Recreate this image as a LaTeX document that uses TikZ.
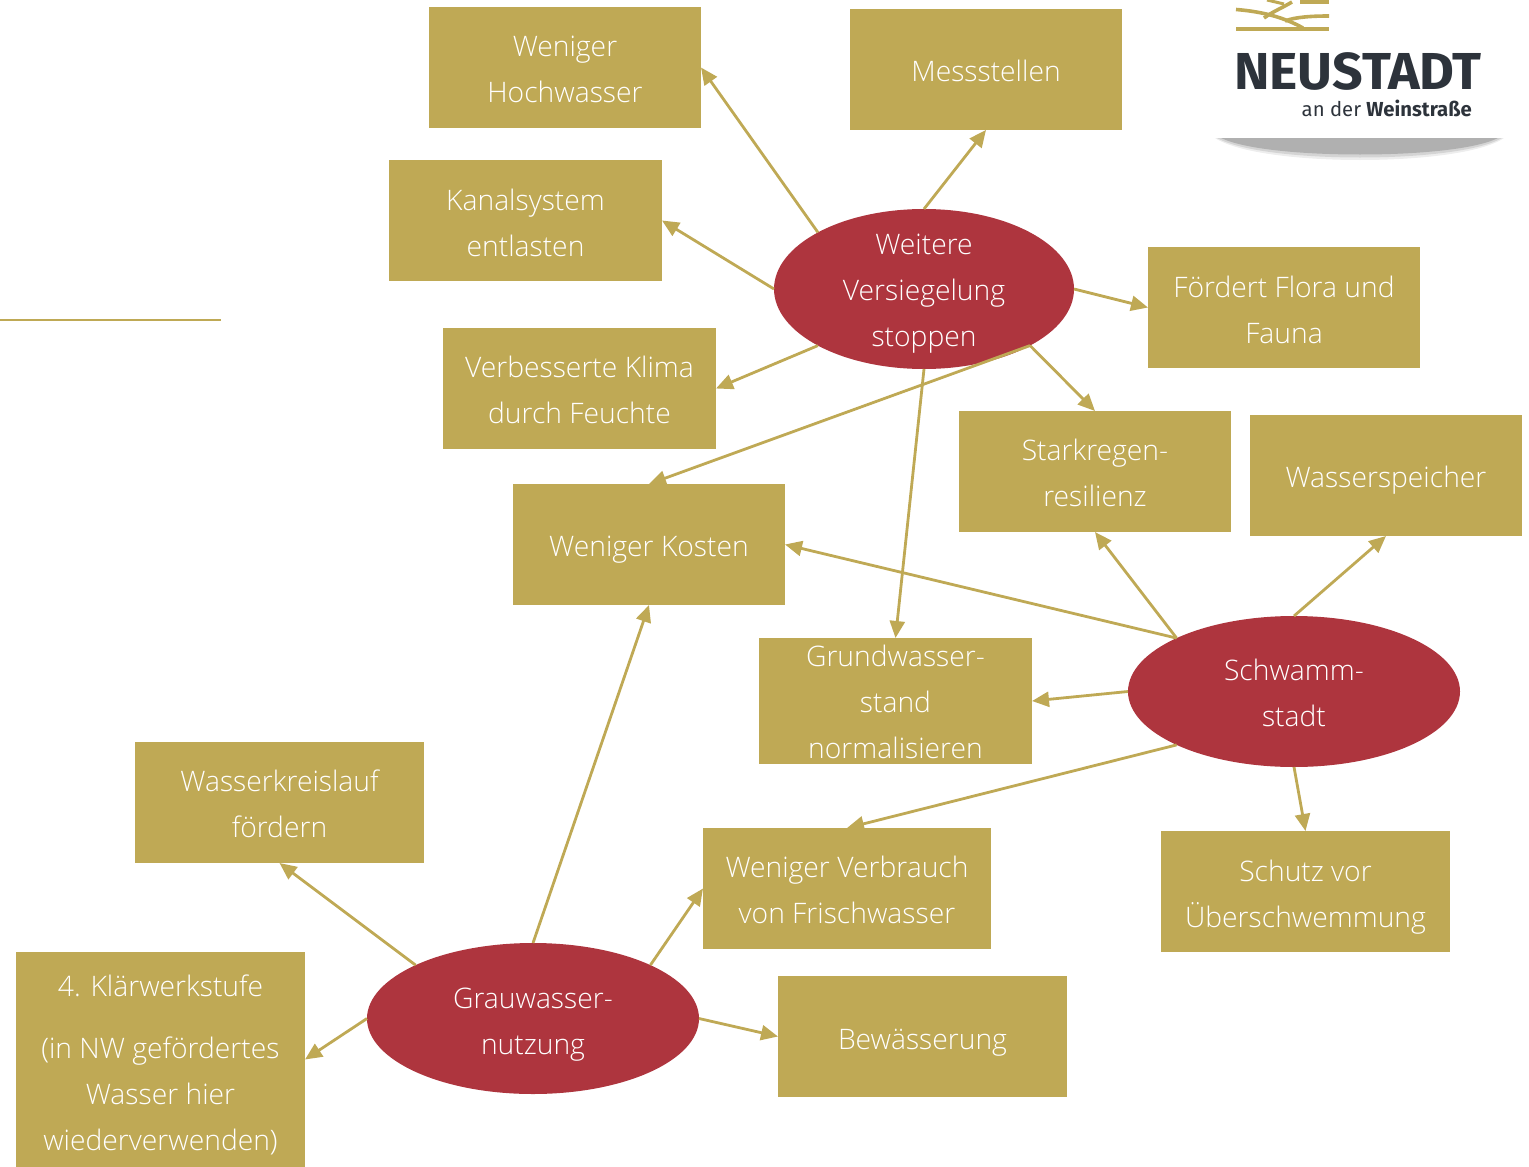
\documentclass[tikz,border=0pt]{standalone}
\usepackage{fontspec}
\setmainfont{Open Sans Light}
\newfontfamily\logofont{Fira Sans}
\usetikzlibrary{arrows.meta,shapes.geometric}
\definecolor{gold}{HTML}{BFA955}
\definecolor{wine}{HTML}{AE353E}
\definecolor{ink}{HTML}{2D333B}
\newcommand\lowtxt[2]{\raisebox{-#1pt}[0pt][0pt]{#2}}
\tikzset{
 x=1pt,y=-1pt,
 txt/.style={text=white,font=\fontsize{28.25}{46}\selectfont,align=center,inner sep=0pt,outer sep=0pt},
 boxn/.style={txt,fill=gold,rectangle,minimum width=#1,minimum height=121pt},
 boxn/.default=272pt,
 ell/.style={txt,fill=wine,ellipse,inner ysep=-18pt,minimum width=332pt,minimum height=151pt},
 dn/.style={execute at begin node={\pgfmathsetlengthmacro{\dnh}{21.3pt+2*#1pt}\rule{0pt}{\dnh}}},
 conn/.style={draw=gold,line width=2.8pt,-{Triangle[length=17pt,width=15pt]}}
}
\begin{document}
\begin{tikzpicture}
\useasboundingbox (0,0) rectangle (1529,1167);
\node[boxn] (hoch) at (565,67.5) {\lowtxt{11.65}{Weniger}\\\lowtxt{11.65}{Hochwasser}};
\node[boxn,dn=1] (mess) at (986,69.5) {Messstellen};
\node[boxn=273pt] (kanal) at (525.5,220.5) {\lowtxt{12.65}{Kanalsystem}\\\lowtxt{12.65}{entlasten}};
\node[boxn=273pt] (klima) at (579.5,388.5) {\lowtxt{11.65}{Verbesserte Klima}\\\lowtxt{11.65}{durch Feuchte}};
\node[boxn] (flora) at (1284,307.5) {\lowtxt{12.65}{Fördert Flora und}\\\lowtxt{12.65}{Fauna}};
\node[boxn] (stark) at (1095,471.5) {\lowtxt{11.65}{Starkregen-}\\\lowtxt{11.65}{resilienz}};
\node[boxn,dn=5] (speicher) at (1386,475.5) {Wasserspeicher};
\node[boxn,dn=5] (kosten) at (649,544.5) {Weniger Kosten};
\node[boxn=273pt,minimum height=126pt] (grund) at (895.5,701) {\lowtxt{11.15}{Grundwasser-}\\\lowtxt{11.15}{stand}\\\lowtxt{11.15}{normalisieren}};
\node[boxn=289pt] (kreis) at (279.5,802.5) {\lowtxt{12.15}{Wasserkreislauf}\\\lowtxt{12.15}{fördern}};
\node[boxn=288pt] (frisch) at (847,888.5) {\lowtxt{11.65}{Weniger Verbrauch}\\\lowtxt{11.65}{von Frischwasser}};
\node[boxn=289pt] (schutz) at (1305.5,891.5) {\lowtxt{12.65}{Schutz vor}\\\lowtxt{12.65}{Überschwemmung}};
\node[boxn=289pt,dn=6] (bew) at (922.5,1036.5) {Bewässerung};
\node[boxn=289pt,minimum height=215pt] (klaer) at (160.5,1059.5) {\lowtxt{13.65}{4. Klärwerkstufe}\\[16pt]\lowtxt{13.65}{(in NW gefördertes}\\\lowtxt{13.65}{Wasser hier}\\\lowtxt{13.65}{wiederverwenden)}};
\node[ell,minimum width=300pt,minimum height=160pt] (vers) at (924,289) {\lowtxt{11.65}{Weitere}\\\lowtxt{11.65}{Versiegelung}\\\lowtxt{11.65}{stoppen}};
\node[ell] (schw) at (1294,691.5) {\lowtxt{12.15}{Schwamm-}\\\lowtxt{12.15}{stadt}};
\node[ell] (grau) at (533,1018.5) {\lowtxt{12.65}{Grauwasser-}\\\lowtxt{12.65}{nutzung}};
\draw[conn] (vers.north west) -- (hoch.east);
\draw[conn] (vers.north) -- (mess.south);
\draw[conn] (vers.west) -- (kanal.east);
\draw[conn] (vers.south west) -- (klima.east);
\draw[conn] (vers.east) -- (flora.west);
\draw[conn] (vers.south east) -- (stark.north);
\draw[conn] (vers.south east) -- (kosten.north);
\draw[conn] (vers.south) -- (grund.north);
\draw[conn] (schw.north) -- (speicher.south);
\draw[conn] (schw.north west) -- (stark.south);
\draw[conn] (schw.north west) -- (kosten.east);
\draw[conn] (schw.west) -- (grund.east);
\draw[conn] (schw.south west) -- (frisch.north);
\draw[conn] (schw.south) -- (schutz.north);
\draw[conn] (grau.north) -- (kosten.south);
\draw[conn] (grau.north west) -- (kreis.south);
\draw[conn] (grau.west) -- (klaer.east);
\draw[conn] (grau.north east) -- (frisch.west);
\draw[conn] (grau.east) -- (bew.west);
\coordinate (ruleA) at (0,320);
\coordinate (ruleB) at (221,320);
\draw[gold,line width=2.8pt] (ruleA) -- (ruleB);
% logo
\fill[gold] (1236,27) rectangle (1329,31);
\draw[gold,line width=3.6pt] (1236,9.5) .. controls (1255,11) and (1280,15) .. (1303,28);
\draw[gold,line width=3.6pt] (1329,16) .. controls (1312,16) and (1295,17) .. (1285,21);
\draw[gold,line width=3.6pt] (1264,18) .. controls (1272,12) and (1282,8) .. (1292,2);
\fill[gold] (1300,0) rectangle (1329,4);
\draw[gold,line width=3pt] (1267,0) -- (1284,4);
\node[anchor=base west,inner sep=0pt,text=ink,xscale=1.03,font=\logofont\bfseries\fontsize{52}{52}\selectfont] (neu) at (1234,89) {NEUSTADT};
\node[anchor=base east,inner sep=0pt,text=ink,font=\logofont\fontsize{20.3}{20}\selectfont] (wein) at (1472,116) {an der \textbf{Weinstraße}};
\fill[black!7] (1215,138) -- (1504,138) .. controls (1482,153) and (1420,160) .. (1360,160) .. controls (1300,160) and (1238,153) .. (1215,138) -- cycle;
\fill[black!17] (1217,138) -- (1502,138) .. controls (1480,151) and (1420,157.5) .. (1360,157.5) .. controls (1300,157.5) and (1240,151) .. (1217,138) -- cycle;
\fill[black!31] (1221,138) -- (1498,138) .. controls (1476,149) and (1420,154.5) .. (1360,154.5) .. controls (1300,154.5) and (1244,149) .. (1221,138) -- cycle;
\end{tikzpicture}
\end{document}
